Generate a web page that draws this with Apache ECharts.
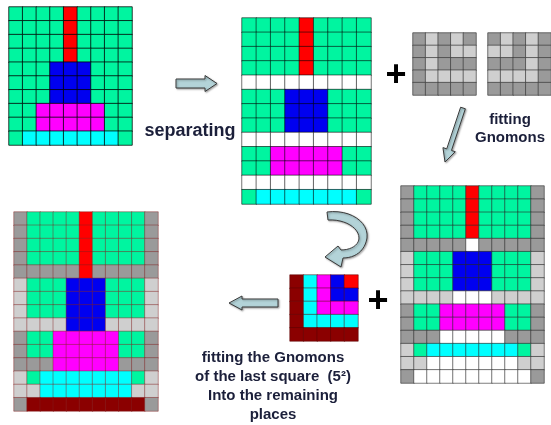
<!DOCTYPE html>
<html>
<head>
<meta charset="utf-8">
<script src="https://cdn.jsdelivr.net/npm/echarts@6/dist/echarts.min.js"></script>
<style>
  html, body { margin: 0; padding: 0; background: #fff; }
  #chart { width: 551px; height: 425px; }
</style>
</head>
<body>
<div id="chart"></div>
<script>
// cell colour codes
const palette = {
  G: '#00F5A0', // green
  R: '#FF0000', // red
  B: '#0000F0', // blue
  M: '#FF00FF', // magenta
  C: '#00FFFF', // cyan
  W: '#FFFFFF', // white (empty)
  D: '#9A9A9A', // dark gray gnomon
  L: '#CFCFCF', // light gray gnomon
  K: '#8B0000'  // dark red
};
const codes = Object.keys(palette);

// original square, 9 x 10
const startRows = [
  'GGGGRGGGG', 'GGGGRGGGG', 'GGGGRGGGG', 'GGGGRGGGG',
  'GGGBBBGGG', 'GGGBBBGGG', 'GGGBBBGGG',
  'GGMMMMMGG', 'GGMMMMMGG',
  'GCCCCCCCG'
];
// separated, 9 x 13
const separatedRows = [
  'GGGGRGGGG', 'GGGGRGGGG', 'GGGGRGGGG', 'GGGGRGGGG',
  'WWWWWWWWW',
  'GGGBBBGGG', 'GGGBBBGGG', 'GGGBBBGGG',
  'WWWWWWWWW',
  'GGMMMMMGG', 'GGMMMMMGG',
  'WWWWWWWWW',
  'GCCCCCCCG'
];
// the two gnomon squares, 5 x 5
const gnomonLeftRows = ['DLDLD', 'DLDLL', 'DLDDD', 'DLLLL', 'DDDDD'];
const gnomonRightRows = ['DLDLD', 'LLDLD', 'DDDLD', 'LLLLD', 'DDDDD'];
// after fitting gnomons, 11 x 15
const fittedRows = [
  'DGGGGRGGGGD', 'DGGGGRGGGGD', 'DGGGGRGGGGD', 'DGGGGRGGGGD',
  'DDDDDWDDDDD',
  'LGGGBBBGGGL', 'LGGGBBBGGGL', 'LGGGBBBGGGL',
  'LLLLWWWLLLL',
  'DGGMMMMMGGD', 'DGGMMMMMGGD',
  'DDDWWWWWDDD',
  'LGCCCCCCCGL',
  'LLWWWWWWWLL',
  'DWWWWWWWWWD'
];
// last square (5^2), 5 x 5
const lastSquareRows = ['KCMBR', 'KCMBB', 'KCMMM', 'KCCCC', 'KKKKK'];
// final result, 11 x 15
const finalRows = [
  'DGGGGRGGGGD', 'DGGGGRGGGGD', 'DGGGGRGGGGD', 'DGGGGRGGGGD',
  'DDDDDRDDDDD',
  'LGGGBBBGGGL', 'LGGGBBBGGGL', 'LGGGBBBGGGL',
  'LLLLBBBLLLL',
  'DGGMMMMMGGD', 'DGGMMMMMGGD',
  'DDDMMMMMDDD',
  'LGCCCCCCCGL',
  'LLCCCCCCCLL',
  'DKKKKKKKKKD'
];

// where each square sits on the page
const panels = [
  { rows: startRows,       box: [9, 7, 123, 138],    line: 'rgba(0,0,0,0.75)' },
  { rows: separatedRows,   box: [242, 18, 129, 186], line: 'rgba(0,0,0,0.55)' },
  { rows: gnomonLeftRows,  box: [413, 33, 63, 62],   line: 'rgba(60,60,60,0.7)' },
  { rows: gnomonRightRows, box: [488, 33, 63, 62],   line: 'rgba(60,60,60,0.7)' },
  { rows: fittedRows,      box: [401, 186, 143, 197], line: 'rgba(40,40,40,0.6)' },
  { rows: lastSquareRows,  box: [290, 275, 68, 66],  line: 'rgba(90,0,0,0.5)' },
  { rows: finalRows,       box: [14, 212, 144, 199], line: 'rgba(130,30,30,0.45)' }
];

function cells(rows) {
  const out = [];
  rows.forEach((r, y) => {
    r.split('').forEach((ch, x) => out.push([x, y, codes.indexOf(ch)]));
  });
  return out;
}

function range(n) { return Array.from({ length: n }, (_, i) => i); }

// block arrow polygon from start to tip
function arrow(x0, y0, x1, y1, s, h, headLen) {
  const dx = x1 - x0, dy = y1 - y0, L = Math.hypot(dx, dy);
  const ux = dx / L, uy = dy / L, nx = -uy, ny = ux;
  const bx = x1 - ux * headLen, by = y1 - uy * headLen;
  return [
    [x0 + nx * s, y0 + ny * s], [bx + nx * s, by + ny * s], [bx + nx * h, by + ny * h],
    [x1, y1],
    [bx - nx * h, by - ny * h], [bx - nx * s, by - ny * s], [x0 - nx * s, y0 - ny * s]
  ];
}

// sample a cubic bezier into points
function bez(p0, p1, p2, p3, n) {
  const pts = [];
  for (let i = 0; i <= n; i++) {
    const t = i / n, a = 1 - t;
    pts.push([
      a * a * a * p0[0] + 3 * a * a * t * p1[0] + 3 * a * t * t * p2[0] + t * t * t * p3[0],
      a * a * a * p0[1] + 3 * a * a * t * p1[1] + 3 * a * t * t * p2[1] + t * t * t * p3[1]
    ]);
  }
  return pts;
}

// curved u-turn arrow
const curvedArrow = [].concat(
  bez([327, 212], [350, 209], [369, 222], [367, 238], 12),
  bez([367, 238], [365, 251], [355, 258], [343, 258], 12),
  [[341, 267], [325, 257], [338, 246]],
  bez([341, 250], [351, 250], [359, 245], [359, 238], 10),
  bez([359, 238], [359, 228], [345, 219], [328, 220], 12)
);

const arrowStyle = {
  fill: '#B3D3D8', stroke: '#3a3a3a', lineWidth: 1,
  shadowColor: 'rgba(0,0,0,0.35)', shadowBlur: 2, shadowOffsetX: 1, shadowOffsetY: 1
};
const textColor = '#1b1f3a';
const font = '"Liberation Sans", Arial, sans-serif';

const chart = echarts.init(document.getElementById('chart'), null, { renderer: 'canvas' });

chart.setOption({
  animation: false,
  grid: panels.map(p => ({ left: p.box[0], top: p.box[1], width: p.box[2], height: p.box[3] })),
  xAxis: panels.map((p, i) => ({
    type: 'category', gridIndex: i, data: range(p.rows[0].length), show: false
  })),
  yAxis: panels.map((p, i) => ({
    type: 'category', gridIndex: i, data: range(p.rows.length), inverse: true, show: false
  })),
  visualMap: {
    type: 'piecewise', show: false, dimension: 2,
    pieces: codes.map((c, i) => ({ value: i, color: palette[c] }))
  },
  series: panels.map((p, i) => ({
    type: 'heatmap',
    xAxisIndex: i, yAxisIndex: i,
    data: cells(p.rows),
    itemStyle: { borderColor: p.line, borderWidth: 1 },
    emphasis: { disabled: true },
    silent: true
  })),
  graphic: [
    { type: 'polygon', shape: { points: arrow(176, 83.5, 217, 83.5, 4.5, 8, 12) }, style: arrowStyle },
    { type: 'polygon', shape: { points: arrow(463, 108, 445, 162, 2.5, 6.5, 13) }, style: arrowStyle },
    { type: 'polygon', shape: { points: arrow(278, 303, 229, 303, 4, 7, 13) }, style: arrowStyle },
    { type: 'polygon', shape: { points: curvedArrow }, style: arrowStyle },
    {
      type: 'text', x: 190, y: 131,
      style: { text: 'separating', font: 'bold 18px ' + font, fill: textColor, align: 'center', verticalAlign: 'middle' }
    },
    {
      type: 'text', x: 510, y: 129,
      style: { text: 'fitting\nGnomons', font: 'bold 15px ' + font, lineHeight: 18, fill: textColor, align: 'center', verticalAlign: 'middle' }
    },
    {
      type: 'text', x: 273, y: 386,
      style: {
        text: 'fitting the Gnomons\nof the last square  (5²)\nInto the remaining\nplaces',
        font: 'bold 15px ' + font, lineHeight: 19, fill: textColor, align: 'center', verticalAlign: 'middle'
      }
    },
    {
      type: 'text', x: 396, y: 76,
      style: { text: '+', font: '900 36px ' + font, fill: '#000', align: 'center', verticalAlign: 'middle' }
    },
    {
      type: 'text', x: 378, y: 302,
      style: { text: '+', font: '900 36px ' + font, fill: '#000', align: 'center', verticalAlign: 'middle' }
    }
  ]
});
</script>
</body>
</html>
